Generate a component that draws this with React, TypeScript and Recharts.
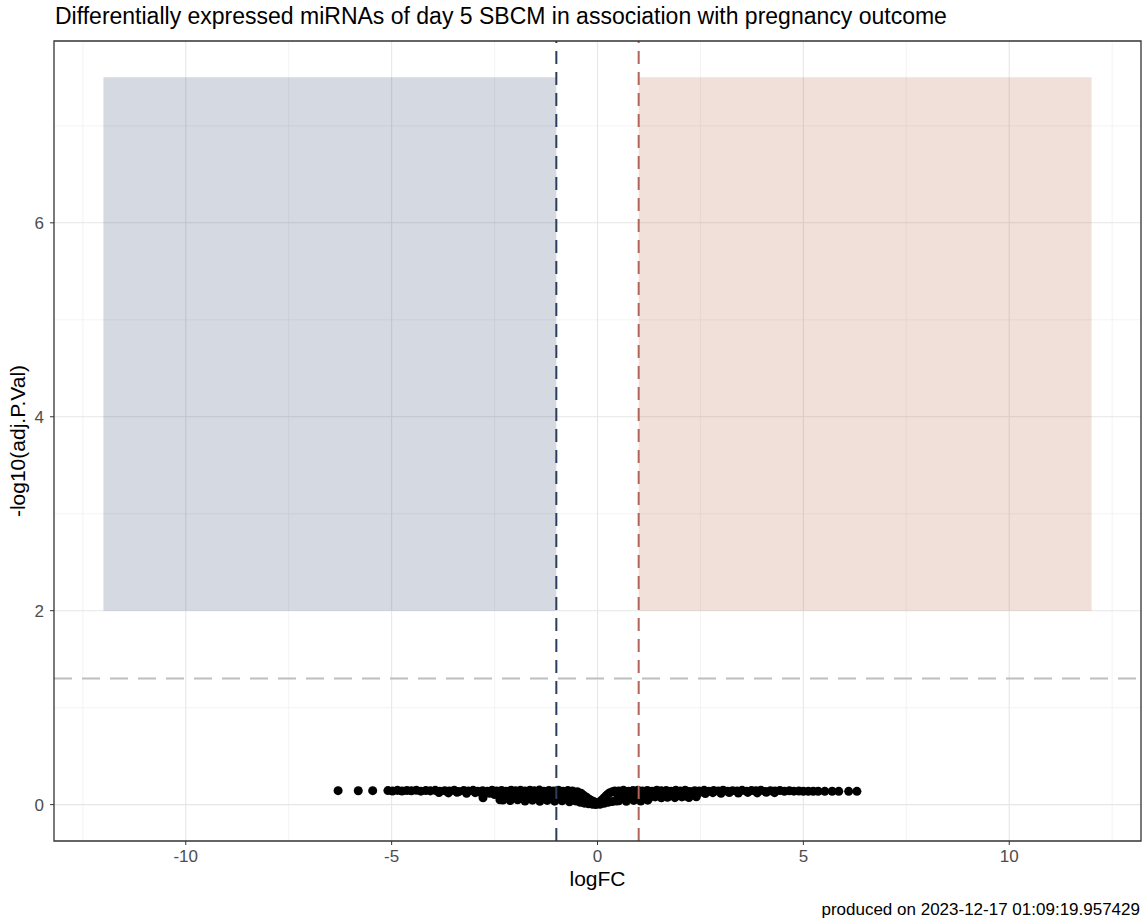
import React from "react";
import {
  ScatterChart,
  Scatter,
  XAxis,
  YAxis,
  ZAxis,
  ReferenceLine,
  ReferenceArea,
} from "recharts";

// ---- Data (logFC, -log10(adj.P.Val)) ----
const leftTail: [number, number][] = [
  [-6.3, 0.144], [-5.81, 0.143], [-5.46, 0.144],
];

const leftTopRow: [number, number][] = [
  [-5.09, 0.145], [-4.98, 0.141], [-4.86, 0.147], [-4.75, 0.14], [-4.63, 0.146],
  [-4.52, 0.143], [-4.4, 0.148], [-4.29, 0.139], [-4.17, 0.145], [-4.06, 0.142],
  [-3.94, 0.147], [-3.83, 0.138], [-3.71, 0.144], [-3.6, 0.141], [-3.48, 0.148],
  [-3.37, 0.136], [-3.25, 0.145], [-3.14, 0.14], [-3.02, 0.147], [-2.91, 0.137],
  [-2.79, 0.144], [-2.68, 0.139], [-2.56, 0.148], [-2.45, 0.141], [-2.33, 0.146],
  [-2.22, 0.138], [-2.1, 0.149], [-1.99, 0.142], [-1.87, 0.147], [-1.76, 0.14],
  [-1.64, 0.148], [-1.53, 0.143], [-1.41, 0.15], [-1.3, 0.139], [-1.18, 0.146],
  [-1.07, 0.141], [-0.95, 0.148], [-0.84, 0.137], [-0.72, 0.145], [-0.61, 0.14],
  [-0.49, 0.134],
];

const leftLowerRows: [number, number][] = [
  [-3.85, 0.125], [-3.62, 0.121], [-3.41, 0.128], [-3.18, 0.118], [-2.97, 0.124],
  [-2.8, 0.11], [-2.78, 0.07], [-2.62, 0.118], [-2.5, 0.105], [-2.41, 0.122],
  [-2.37, 0.05], [-2.28, 0.112], [-2.15, 0.098], [-2.05, 0.117], [-1.93, 0.104],
  [-1.82, 0.121], [-1.7, 0.095], [-1.59, 0.113], [-1.47, 0.101], [-1.36, 0.119],
  [-1.25, 0.092], [-1.13, 0.11], [-1.02, 0.099], [-0.9, 0.115], [-0.79, 0.09],
  [-0.67, 0.108], [-0.56, 0.096], [-0.44, 0.112],
  [-2.22, 0.075], [-2.08, 0.068], [-1.95, 0.08], [-1.81, 0.064], [-1.68, 0.078],
  [-1.55, 0.07], [-1.42, 0.082], [-1.29, 0.066], [-1.16, 0.076], [-1.03, 0.061],
  [-0.91, 0.074], [-0.78, 0.067], [-0.66, 0.079], [-0.54, 0.06],
  [-2.3, 0.048], [-2.12, 0.042], [-1.94, 0.05], [-1.76, 0.038], [-1.58, 0.046],
  [-1.4, 0.034], [-1.22, 0.044], [-1.04, 0.036], [-0.86, 0.04], [-0.68, 0.03],
  [-0.52, 0.038],
];

const centerDip: [number, number][] = [
  [-0.4, 0.118], [-0.35, 0.1], [-0.3, 0.085], [-0.25, 0.07], [-0.2, 0.055],
  [-0.15, 0.042], [-0.1, 0.032], [-0.05, 0.024], [0.0, 0.02], [0.05, 0.028],
  [0.1, 0.046], [0.15, 0.066], [0.2, 0.088], [0.25, 0.108], [0.3, 0.122],
  [0.36, 0.132], [0.42, 0.14],
  [-0.42, 0.025], [-0.32, 0.015], [-0.22, 0.008], [-0.12, 0.003], [-0.04, 0.001],
  [0.06, 0.004], [0.16, 0.014], [0.26, 0.025], [0.36, 0.032], [0.46, 0.038],
];

const rightTopRow: [number, number][] = [
  [0.52, 0.141], [0.63, 0.147], [0.75, 0.138], [0.86, 0.145], [0.98, 0.149],
  [1.09, 0.14], [1.21, 0.146], [1.32, 0.137], [1.44, 0.148], [1.55, 0.142],
  [1.67, 0.145], [1.78, 0.139], [1.9, 0.147], [2.01, 0.141], [2.13, 0.149],
  [2.24, 0.136], [2.36, 0.144], [2.47, 0.14], [2.59, 0.147], [2.7, 0.138],
  [2.82, 0.145], [2.93, 0.141], [3.05, 0.148], [3.16, 0.137], [3.28, 0.144],
  [3.39, 0.14], [3.51, 0.147], [3.62, 0.139], [3.74, 0.145], [3.85, 0.142],
  [3.97, 0.148], [4.08, 0.136], [4.2, 0.144], [4.31, 0.14], [4.43, 0.146],
  [4.54, 0.138], [4.66, 0.143], [4.77, 0.139], [4.89, 0.141], [5.0, 0.137],
];

const rightLowerRows: [number, number][] = [
  [0.48, 0.11], [0.6, 0.122], [0.74, 0.102], [0.88, 0.118], [1.02, 0.095],
  [1.16, 0.12], [1.3, 0.106], [1.44, 0.116], [1.58, 0.092], [1.72, 0.121],
  [1.86, 0.104], [2.0, 0.118], [2.14, 0.088], [2.28, 0.112], [2.45, 0.12],
  [2.62, 0.114], [2.8, 0.124], [3.0, 0.118], [3.2, 0.125], [3.42, 0.12],
  [3.65, 0.126], [3.88, 0.121], [4.1, 0.127], [4.3, 0.124],
  [0.5, 0.072], [0.65, 0.064], [0.8, 0.078], [0.95, 0.06], [1.1, 0.074],
  [1.25, 0.066], [1.4, 0.08], [1.55, 0.07], [1.7, 0.076], [1.88, 0.072],
  [2.05, 0.08], [2.22, 0.074], [2.4, 0.082],
  [0.52, 0.04], [0.7, 0.034], [0.88, 0.044], [1.05, 0.038], [1.22, 0.046],
];

const rightTail: [number, number][] = [
  [5.12, 0.138], [5.24, 0.137], [5.36, 0.138], [5.52, 0.137], [5.7, 0.138],
  [5.86, 0.137], [6.1, 0.137], [6.3, 0.137],
];

const xTicks = [-10, -5, 0, 5, 10];
const yTicks = [0, 2, 4, 6];
const xMinorGrid = [-12.5, -7.5, -2.5, 2.5, 7.5, 12.5];
const yMinorGrid = [1, 3, 5, 7];
const xDomain: [number, number] = [-13.2, 13.2];
const yDomain: [number, number] = [-0.375, 7.875];
const logFCCutoff = 1;
const pCutoff = 1.30103; // -log10(0.05)
const highlightBoxes = [
  { x1: -12, x2: -1, y1: 2, y2: 7.5, fill: "#2B3F6E" },
  { x1: 1, x2: 12, y1: 2, y2: 7.5, fill: "#B8603F" },
];

const titleText =
  "Differentially expressed miRNAs of day 5 SBCM in association with pregnancy outcome";
const captionText = "produced on 2023-12-17 01:09:19.957429";

const points = [
  ...leftTail,
  ...leftTopRow,
  ...leftLowerRows,
  ...centerDip,
  ...rightTopRow,
  ...rightLowerRows,
  ...rightTail,
].map(([x, y]) => ({ x, y }));

const FONT = "'Liberation Sans', Arial, Helvetica, sans-serif";

export default function App() {
  return (
    <div
      style={{
        position: "absolute",
        left: 0,
        top: 0,
        width: 1146,
        height: 923,
        background: "#FFFFFF",
        fontFamily: FONT,
      }}
    >
      <div
        style={{
          position: "absolute",
          left: 55,
          top: 3,
          fontSize: 23,
          color: "#000",
          whiteSpace: "nowrap",
          fontFamily: FONT,
        }}
      >
        {titleText}
      </div>
      <ScatterChart
        width={1146}
        height={923}
        margin={{ top: 41, right: 5, bottom: 0, left: 0 }}
      >
        <XAxis
          dataKey="x"
          type="number"
          domain={xDomain}
          ticks={xTicks}
          allowDataOverflow
          axisLine={false}
          tickSize={4}
          tickMargin={5}
          tickLine={{ stroke: "#333333" }}
          tick={{ fill: "#4D4D4D", fontSize: 17, fontFamily: FONT }}
          height={82}
          label={{
            value: "logFC",
            position: "insideTop",
            offset: 30,
            style: { fill: "#000", fontSize: 21, fontFamily: FONT },
          }}
        />
        <YAxis
          dataKey="y"
          type="number"
          domain={yDomain}
          ticks={yTicks}
          allowDataOverflow
          axisLine={false}
          tickSize={4}
          tickMargin={6}
          tickLine={{ stroke: "#333333" }}
          tick={{ fill: "#4D4D4D", fontSize: 17, fontFamily: FONT }}
          width={54}
          label={{
            value: "-log10(adj.P.Val)",
            content: (props: any) => {
              const vb = props.viewBox || {};
              const cy = (vb.y ?? 41) + (vb.height ?? 800) / 2;
              return (
                <text
                  x={25}
                  y={cy}
                  transform={`rotate(-90, 25, ${cy})`}
                  textAnchor="middle"
                  fontSize={21}
                  fontFamily={FONT}
                  fill="#000"
                >
                  -log10(adj.P.Val)
                </text>
              );
            },
          }}
        />
        <ZAxis range={[80, 80]} />
        {xMinorGrid.map((v) => (
          <ReferenceLine key={"xm" + v} x={v} stroke="#F0F0F0" strokeWidth={0.8} zIndex={50} />
        ))}
        {yMinorGrid.map((v) => (
          <ReferenceLine key={"ym" + v} y={v} stroke="#F0F0F0" strokeWidth={0.8} zIndex={50} />
        ))}
        {xTicks.map((v) => (
          <ReferenceLine key={"xM" + v} x={v} stroke="#E6E6E6" strokeWidth={1.1} zIndex={50} />
        ))}
        {yTicks.map((v) => (
          <ReferenceLine key={"yM" + v} y={v} stroke="#E6E6E6" strokeWidth={1.1} zIndex={50} />
        ))}
        {highlightBoxes.map((b, i) => (
          <ReferenceArea
            key={"box" + i}
            x1={b.x1}
            x2={b.x2}
            y1={b.y1}
            y2={b.y2}
            fill={b.fill}
            fillOpacity={0.2}
            stroke="none"
            zIndex={60}
          />
        ))}
        <Scatter data={points} fill="#000000" isAnimationActive={false} />
        <ReferenceLine
          y={pCutoff}
          stroke="#BEBEBE"
          strokeWidth={2.2}
          strokeDasharray="18 10"
          zIndex={700}
        />
        <ReferenceLine
          x={-logFCCutoff}
          stroke="#2C3E5E"
          strokeWidth={2}
          strokeDasharray="13 8"
          zIndex={700}
        />
        <ReferenceLine
          x={logFCCutoff}
          stroke="#B0645A"
          strokeWidth={2}
          strokeDasharray="13 8"
          zIndex={700}
        />
        <ReferenceArea
          x1={xDomain[0]}
          x2={xDomain[1]}
          y1={yDomain[0]}
          y2={yDomain[1]}
          fill="none"
          fillOpacity={0}
          stroke="#333333"
          strokeWidth={1.3}
          zIndex={800}
        />
      </ScatterChart>
      <div
        style={{
          position: "absolute",
          right: 6,
          top: 900,
          fontSize: 17,
          color: "#000",
          whiteSpace: "nowrap",
          fontFamily: FONT,
        }}
      >
        {captionText}
      </div>
    </div>
  );
}
